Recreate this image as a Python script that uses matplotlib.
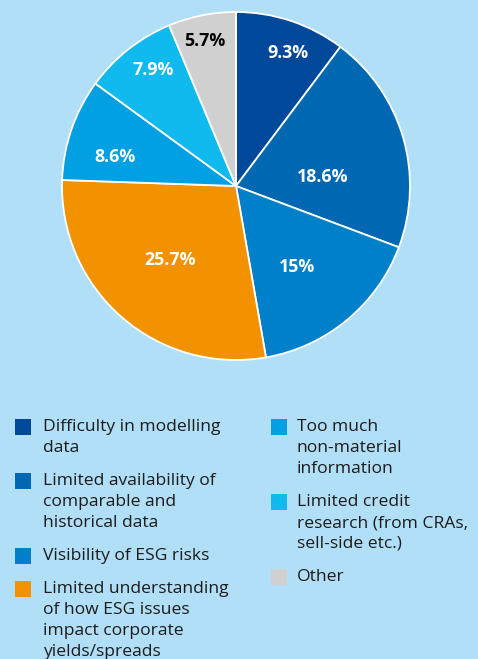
import matplotlib.pyplot as plt
from matplotlib.patches import Rectangle
import numpy as np

# данные диаграммы
categories = [
    "Difficulty in modelling\ndata",
    "Limited availability of\ncomparable and\nhistorical data",
    "Visibility of ESG risks",
    "Limited understanding\nof how ESG issues\nimpact corporate\nyields/spreads",
    "Too much\nnon-material\ninformation",
    "Limited credit\nresearch (from CRAs,\nsell-side etc.)",
    "Other",
]
shares = [9.3, 18.6, 15, 25.7, 8.6, 7.9, 5.7]
pct_labels = ["9.3%", "18.6%", "15%", "25.7%", "8.6%", "7.9%", "5.7%"]

colors = ["#00489a", "#0068b2", "#0080c8", "#f29200", "#00a0e2", "#10baef", "#d0d0d0"]
label_colors = ["white"] * 6 + ["black"]
# положение подписей: доля радиуса и угол (градусы)
label_r = [0.82, 0.50, 0.58, 0.57, 0.715, 0.82, 0.85]
label_ang = [68.6, 5.9, -53.0, -131.7, 166.5, 125.6, 102.1]

bg = "#b1dff7"
W, H = 478, 659

fig = plt.figure(figsize=(W / 100, H / 100), dpi=100, facecolor=bg)

# оси круговой диаграммы: центр (236, 186), радиус 174 px
cx, cy, r = 236, 186, 174
ax = fig.add_axes([(cx - r) / W, (H - cy - r) / H, 2 * r / W, 2 * r / H])
ax.set_facecolor(bg)

wedges, _ = ax.pie(
    shares,
    colors=colors,
    startangle=90,
    counterclock=False,
    radius=1.0,
    wedgeprops=dict(edgecolor="white", linewidth=1.3),
)

for txt, d, a, c in zip(pct_labels, label_r, label_ang, label_colors):
    ang = np.deg2rad(a)
    ax.text(
        d * np.cos(ang),
        d * np.sin(ang),
        txt,
        ha="center",
        va="center",
        color=c,
        fontsize=12.8,
        fontweight="bold",
        family="Open Sans",
    )
ax.set_xlim(-1.0, 1.0)
ax.set_ylim(-1.0, 1.0)
ax.set_aspect("equal")
ax.axis("off")

# легенда вручную: две колонки
line_h = 21
gap = 12
columns = [(15, 43, categories[:4], colors[:4]), (271, 297, categories[4:], colors[4:])]
for sq_x, tx, labels, cols in columns:
    y = 427
    for lab, col in zip(labels, cols):
        fig.patches.append(
            Rectangle(
                (sq_x / W, (H - y - 8) / H),
                16 / W,
                16 / H,
                transform=fig.transFigure,
                facecolor=col,
                edgecolor="none",
            )
        )
        lines = lab.split("\n")
        for i, ln in enumerate(lines):
            fig.text(
                tx / W,
                (H - y - i * line_h) / H,
                ln,
                ha="left",
                va="center",
                fontsize=12.6,
                color="#1c1c1c",
                family="Open Sans",
            )
        y += len(lines) * line_h + gap

fig.savefig("out.png", dpi=100, facecolor=bg)
